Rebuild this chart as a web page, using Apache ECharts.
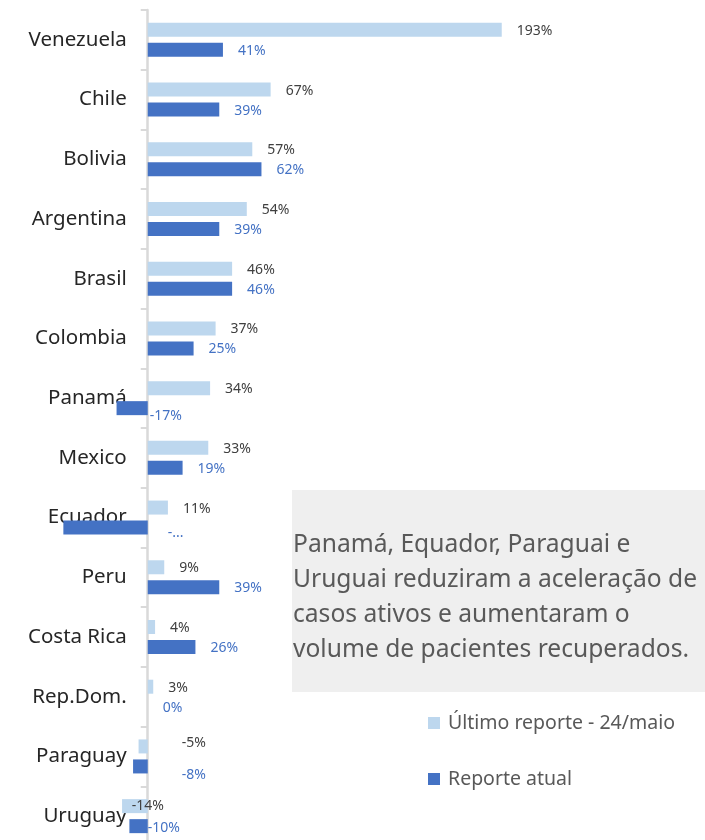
<!DOCTYPE html>
<html>
<head>
<meta charset="utf-8">
<script src="https://cdn.jsdelivr.net/npm/echarts@6/dist/echarts.min.js"></script>
<style>
  html, body { margin: 0; padding: 0; background: #fff; }
  #chart { width: 705px; height: 840px; }
</style>
</head>
<body>
<div id="chart"></div>
<script>
var countries = ['Venezuela', 'Chile', 'Bolivia', 'Argentina', 'Brasil', 'Colombia', 'Panamá',
  'Mexico', 'Ecuador', 'Peru', 'Costa Rica', 'Rep.Dom.', 'Paraguay', 'Uruguay']
var ultimo_reporte = [193, 67, 57, 54, 46, 37, 34, 33, 11, 9, 4, 3, -5, -14]
var reporte_atual = [41, 39, 62, 39, 46, 25, -17, 19, -46, 39, 26, 0, -8, -10]
var legend_names = ['Último reporte - 24/maio', 'Reporte atual']
var note_lines = [
  'Panamá, Equador, Paraguai e',
  'Uruguai reduziram a aceleração de',
  'casos ativos e aumentaram o',
  'volume de pacientes recuperados.'
]

var FONT = '"Noto Sans", "Open Sans", sans-serif'

// x scale: grid starts at 1px and is 697px wide for -80..300
var X_MIN = -80
var X_MAX = 300
var GRID_LEFT = 1
var GRID_RIGHT = 7
var zero_px = GRID_LEFT + (0 - X_MIN) * (705 - GRID_LEFT - GRID_RIGHT) / (X_MAX - X_MIN)

// hand nudges for the labels of negative bars (Excel placed them manually)
var labelShift = {
  '0-Paraguay': [34, -3],
  '0-Uruguay': [-16, 0],
  '1-Panamá': [2, 8],
  '1-Ecuador': [20, 5],
  '1-Paraguay': [34, 9],
  '1-Uruguay': [0, 2]
}

function build_data(values, seriesIndex) {
  return values.map(function (v, i) {
    var key = seriesIndex + '-' + countries[i]
    var item = { value: v }
    if (labelShift[key]) {
      item.label = { distance: 0, offset: labelShift[key] }
    }
    return item
  })
}

function label_text(p) {
  // the Ecuador label is cut off in the original
  if (p.value < -40) return '-...'
  return p.value + '%'
}

var myChart = echarts.init(document.getElementById('chart'))
var option = {
  animation: false,
  textStyle: { fontFamily: FONT },
  grid: {
    left: GRID_LEFT, right: GRID_RIGHT, top: 10, bottom: -6,
    containLabel: false, outerBoundsMode: 'none'
  },
  legend: {
    orient: 'vertical',
    left: 428,
    top: 713,
    padding: 0,
    itemWidth: 12,
    itemHeight: 12,
    itemGap: 36,
    icon: 'rect',
    data: legend_names,
    textStyle: { fontSize: 19.5, color: '#595959', fontFamily: FONT, padding: [0, 0, 0, 3] }
  },
  xAxis: {
    type: 'value',
    min: X_MIN,
    max: X_MAX,
    show: false
  },
  yAxis: {
    type: 'category',
    inverse: true,
    data: countries,
    offset: -(zero_px - GRID_LEFT), // put the axis at x = 0
    axisLine: { onZero: false, lineStyle: { color: '#D9D9D9', width: 2.5 } },
    axisTick: { show: true, length: 7, lineStyle: { color: '#D9D9D9', width: 2 } },
    axisLabel: { margin: 21, fontSize: 20.5, color: '#262626', fontFamily: FONT },
    splitLine: { show: false }
  },
  graphic: [
    {
      type: 'rect',
      left: 292,
      top: 490,
      shape: { width: 413, height: 202 },
      style: { fill: '#EFEFEF' },
      z: 0
    },
    {
      type: 'text',
      left: 293,
      top: 527,
      style: {
        text: note_lines.join('\n'),
        font: '24.6px ' + FONT,
        fill: '#595959',
        lineHeight: 35
      },
      z: 1
    }
  ],
  series: [
    {
      name: legend_names[0],
      type: 'bar',
      data: build_data(ultimo_reporte, 0),
      barWidth: 14,
      barGap: '43%',
      itemStyle: { color: '#BDD7EE' },
      label: {
        show: true,
        position: 'right',
        distance: 15,
        offset: [0, 1],
        fontSize: 14,
        color: '#404040',
        fontFamily: FONT,
        formatter: label_text
      }
    },
    {
      name: legend_names[1],
      type: 'bar',
      data: build_data(reporte_atual, 1),
      barWidth: 14,
      barGap: '43%',
      itemStyle: { color: '#4472C4' },
      label: {
        show: true,
        position: 'right',
        distance: 15,
        offset: [0, 1],
        fontSize: 14,
        color: '#4472C4',
        fontFamily: FONT,
        formatter: label_text
      }
    }
  ]
}
myChart.setOption(option)
window.addEventListener('resize', function () {
  myChart.resize()
})
</script>
</body>
</html>
